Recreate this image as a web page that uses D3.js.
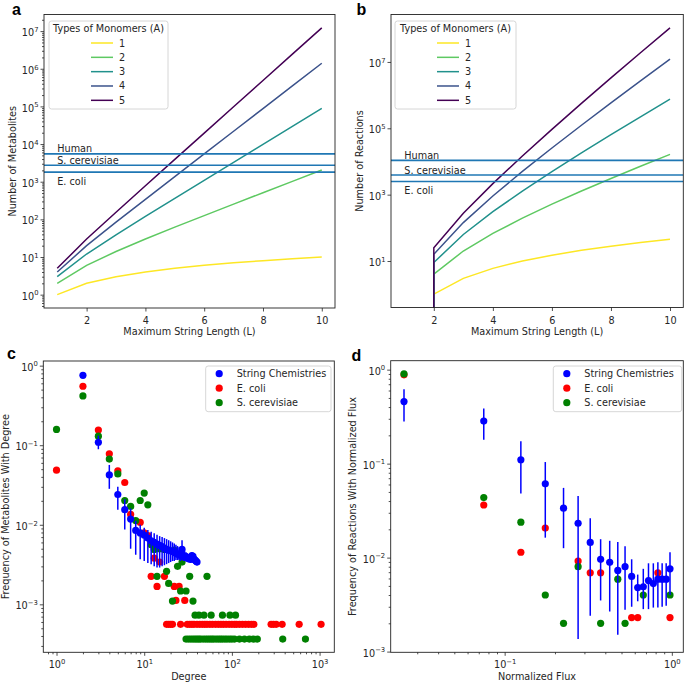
<!DOCTYPE html>
<html>
<head>
<meta charset="utf-8">
<script src="https://cdn.jsdelivr.net/npm/d3@7/dist/d3.min.js"></script>
<style>
html,body{margin:0;padding:0;background:#fff;}
svg{display:block;}
</style>
</head>
<body>
<svg id="chart" width="685" height="684"></svg>
<script>
// ---------------- data ----------------
const stringLengths = [1,2,3,4,5,6,7,8,9,10];
const monomerTypes = ["1","2","3","4","5"];

const metabolitesA1 = [1,2,3,4,5,6,7,8,9,10];
const metabolitesA2 = [2,6,14,30,62,126,254,510,1022,2046];
const metabolitesA3 = [3,12,39,120,363,1092,3279,9840,29523,88572];
const metabolitesA4 = [4,20,84,340,1364,5460,21844,87380,349524,1398100];
const metabolitesA5 = [5,30,155,780,3905,19530,97655,488280,2441405,12207030];

const reactionsA1 = [0,1,3,6,10,15,21,28,36,45];
const reactionsA2 = [0,4,20,68,196,516,1284,3076,7172,16388];
const reactionsA3 = [0,9,63,306,1278,4923,18045,63972,221436,752877];
const reactionsA4 = [0,16,144,912,5008,25488,123792,582544,2679696,12116880];
const reactionsA5 = [0,25,275,2150,14650,92775,561525,3295900,18920900,106811525];

const organismNames = ["Human","S. cerevisiae","E. coli"];
const organismMetabolites = [5500,2730,1800];
const organismReactions = [10800,3900,2500];

const seriesNames = ["String Chemistries","E. coli","S. cerevisiae"];

// panel c : degree distributions
const degreeString = [2,3,4,5,6,7,8,9,10,11,12,13,14,15,16,17,18,19,20,21,22,23,24,25,26,27,28,29,30,31,32,33,34,35,36,37,38,39,40];
const freqString = [0.757,0.109,0.0423,0.0240,0.0155,0.0118,0.0085,0.0079,0.0074,0.0068,0.0063,0.0060,0.0057,0.0055,0.0053,0.0051,0.0049,0.0048,0.0047,0.0046,0.0045,0.0044,0.0043,0.0042,0.0041,0.0049,0.0040,0.0040,0.0039,0.0038,0.0038,0.0037,0.0037,0.0041,0.0040,0.0037,0.0036,0.0035,0.0034];
const freqStringLo = [0.735,0.089,0.0283,0.0155,0.0087,0.0050,0.0042,0.0037,0.0035,0.0033,0.0032,0.0030,0.0029,0.0029,0.0030,0.0031,0.0032,0.0033,0.0034,0.0035,0.0035,0.0036,0.0036,0.0036,0.0035,0.0040,0.0035,0.0035,0.0035,0.0034,0.0034,0.0034,0.0033,0.0037,0.0036,0.0034,0.0033,0.0032,0.0031];
const freqStringHi = [0.78,0.132,0.0565,0.0300,0.0210,0.0160,0.0112,0.0100,0.0092,0.0086,0.0082,0.0078,0.0075,0.0072,0.0070,0.0068,0.0066,0.0064,0.0062,0.0060,0.0058,0.0056,0.0054,0.0052,0.0050,0.0064,0.0047,0.0046,0.0045,0.0044,0.0043,0.0042,0.0041,0.0045,0.0044,0.0041,0.0040,0.0039,0.0038];

const degreeEcoli = [1,2,3,4,5,6,7,9,10,11,12,13,14,15,16,17,22,23,25,29,
  18,19,20,21,26,31,33,35,37,40,43,46,49,52,56,60,65,70,75,80,86,93,100,107,113,122,132,143,155,167,178,280,298,320,374,585,1040];
const freqEcoli = [0.0485,0.551,0.155,0.078,0.0475,0.034,0.0135,0.0107,0.0079,0.0073,0.00225,0.0038,0.00168,0.0034,0.0051,0.00225,0.00168,0.00112,0.00168,0.00112,
  0.00056,0.00056,0.00056,0.00056,0.00056,0.00056,0.00056,0.00056,0.00056,0.00056,0.00056,0.00056,0.00056,0.00056,0.00056,0.00056,0.00056,0.00056,0.00056,0.00056,0.00056,0.00056,0.00056,0.00056,0.00056,0.00056,0.00056,0.00056,0.00056,0.00056,0.00056,0.00056,0.00056,0.00056,0.00056,0.00056,0.00056];

const degreeYeast = [1,2,3,4,5,6,7,8,9,10,11,12,13,14,15,17,18,19,21,22,24,26,27,30,33,36,52,
  38,42,48,58,78,95,110,
  30,32,34,36,38,40,42,44,47,50,53,56,59,62,66,70,74,78,83,88,94,100,107,122,139,158,175,195,380,690];
const freqYeast = [0.158,0.417,0.130,0.067,0.0436,0.0202,0.017,0.0113,0.0202,0.025,0.0178,0.0056,0.0049,0.00225,0.0050,0.0049,0.0026,0.00183,0.0011,0.0048,0.0030,0.00147,0.0034,0.00147,0.00225,0.0011,0.00225,
  0.00073,0.00073,0.00073,0.00073,0.00073,0.00073,0.00073,
  0.000366,0.000366,0.000366,0.000366,0.000366,0.000366,0.000366,0.000366,0.000366,0.000366,0.000366,0.000366,0.000366,0.000366,0.000366,0.000366,0.000366,0.000366,0.000366,0.000366,0.000366,0.000366,0.000366,0.000366,0.000366,0.000366,0.000366,0.000366,0.000366,0.000366];

// panel d : flux distributions
const fluxBins = [0.025,0.075,0.125,0.175,0.225,0.275,0.325,0.375,0.425,0.475,0.525,0.575,0.625,0.675,0.725,0.775,0.825,0.875,0.925,0.975];
const fluxString = [0.457,0.284,0.110,0.061,0.0336,0.0232,0.0145,0.0096,0.0089,0.0073,0.0080,0.0063,0.0048,0.0049,0.0057,0.0053,0.0059,0.0059,0.0059,0.0076];
const fluxStringLo = [0.28,0.18,0.048,0.0163,0.0126,0.00136,0.0024,0.0035,0.00267,0.00151,0.00278,0.0030,0.00343,0.00283,0.00283,0.00294,0.00294,0.0030,0.00308,0.0040];
const fluxStringHi = [0.62,0.385,0.173,0.104,0.0552,0.0453,0.0263,0.0157,0.0151,0.0147,0.0132,0.0096,0.0066,0.0076,0.0087,0.0087,0.0089,0.0087,0.0087,0.0114];
const fluxEcoliX = [0.025,0.075,0.125,0.175,0.275,0.325,0.375,0.575,0.625,0.825,0.975];
const fluxEcoli = [0.88,0.0363,0.0114,0.0206,0.0092,0.0069,0.0069,0.0023,0.0023,0.0069,0.0023];
const fluxYeastX = [0.025,0.075,0.125,0.175,0.225,0.275,0.375,0.475,0.525,0.675,0.975];
const fluxYeast = [0.90,0.0435,0.0238,0.0040,0.0020,0.0080,0.0020,0.0059,0.0020,0.0040,0.0040];

const xTicksL = [2,4,6,8,10];

// ---------------- styles ----------------
const viridis5 = ["#fde725","#5ec962","#21918c","#3b528b","#440154"];
const refColor = "#1f77b4";
const scatterColors = ["#0000ff","#ff0000","#008000"];
const FONT = "'DejaVu Sans', sans-serif";
const FS = 9.7;
const TXT = "#262626";
const INK = "#222";

const svg = d3.select("#chart");

function linDomain(v){const lo=d3.min(v),hi=d3.max(v),m=(hi-lo)*0.05;return [lo-m,hi+m];}
function logDomain(v){const p=v.filter(d=>d>0);const lo=Math.log10(d3.min(p)),hi=Math.log10(d3.max(p)),m=(hi-lo)*0.05;return [Math.pow(10,lo-m),Math.pow(10,hi+m)];}
function minorTicks(dom){const out=[];const lo=Math.floor(Math.log10(dom[0])),hi=Math.ceil(Math.log10(dom[1]));for(let k=lo;k<=hi;k++)for(let m=2;m<=9;m++){const v=m*Math.pow(10,k);if(v>=dom[0]&&v<=dom[1])out.push(v);}return out;}
function majorTicks(dom){const out=[];const lo=Math.ceil(Math.log10(dom[0])-1e-9),hi=Math.floor(Math.log10(dom[1])+1e-9);for(let k=lo;k<=hi;k++)out.push(Math.pow(10,k));return out;}

function supText(sel){
  sel.each(function(d){
    const e=Math.round(Math.log10(d));
    const t=d3.select(this); t.text(null);
    t.append("tspan").text("10");
    t.append("tspan").attr("dy",-4.3).attr("font-size","6.8px").text(e<0?"\u2212"+(-e):String(e));
  });
}
function styleAxis(a){
  a.attr("font-family",FONT).attr("font-size",FS);
  a.select(".domain").remove();
  a.selectAll(".tick line").attr("stroke",INK).attr("stroke-width",0.8);
  a.selectAll(".tick text").attr("fill",TXT);
}
function xAxis(box,x,ticks,isLog,minor){
  const ax=svg.append("g").attr("transform",`translate(0,${box.b})`)
    .call(d3.axisBottom(x).tickValues(ticks).tickSize(3.5).tickPadding(3.5));
  styleAxis(ax);
  ax.selectAll(".tick text").attr("y",16).attr("dy",0);
  if(isLog) supText(ax.selectAll(".tick text")); else ax.selectAll(".tick text").text(d=>d);
  if(minor){
    const m=svg.append("g").attr("transform",`translate(0,${box.b})`)
      .call(d3.axisBottom(x).tickValues(minor).tickSize(2).tickFormat(""));
    styleAxis(m);
  }
}
function yAxis(box,y,ticks,minor){
  const ax=svg.append("g").attr("transform",`translate(${box.l},0)`)
    .call(d3.axisLeft(y).tickValues(ticks).tickSize(3.5).tickPadding(2));
  styleAxis(ax);
  ax.selectAll(".tick text").attr("dy",4.6);
  supText(ax.selectAll(".tick text"));
  if(minor){
    const m=svg.append("g").attr("transform",`translate(${box.l},0)`)
      .call(d3.axisLeft(y).tickValues(minor).tickSize(2).tickFormat(""));
    styleAxis(m);
  }
}
function frame(box){
  svg.append("rect").attr("x",box.l).attr("y",box.t).attr("width",box.r-box.l).attr("height",box.b-box.t)
    .attr("fill","none").attr("stroke",INK).attr("stroke-width",0.9);
}
function label(x,y,txt,opts={}){
  const t=svg.append("text").attr("x",x).attr("y",y).text(txt)
    .attr("font-family",opts.font||FONT).attr("font-size",opts.size||FS)
    .attr("fill",opts.fill||TXT).attr("text-anchor",opts.anchor||"start");
  if(opts.weight) t.attr("font-weight",opts.weight);
  if(opts.rotate) t.attr("transform",`rotate(-90,${x},${y})`);
  return t;
}
function panelLetter(x,y,ch){label(x,y,ch,{font:"'Liberation Sans', Arial, sans-serif",size:16,weight:"bold",fill:"#000"});}

// ---------- panels a & b ----------
function linePanel(box,seriesList,refs,yLab,yLabX,yTicks,showMinor,leg,clipId){
  const x=d3.scaleLinear().domain(linDomain(stringLengths)).range([box.l,box.r]);
  const yDom=logDomain(seriesList.flat());
  const y=d3.scaleLog().domain(yDom).range([box.b,box.t]);
  svg.append("clipPath").attr("id",clipId).append("rect")
    .attr("x",box.l).attr("y",box.t).attr("width",box.r-box.l).attr("height",box.b-box.t);
  const g=svg.append("g").attr("clip-path",`url(#${clipId})`);
  const line=d3.line().x((d,i)=>x(stringLengths[i])).y(d=>d>0?y(d):box.b+1e5);
  seriesList.forEach((s,i)=>{
    g.append("path").datum(s).attr("d",line).attr("fill","none")
      .attr("stroke",viridis5[i]).attr("stroke-width",1.5);
  });
  refs.forEach((v,i)=>{
    g.append("line").attr("x1",box.l).attr("x2",box.r).attr("y1",y(v)).attr("y2",y(v))
      .attr("stroke",refColor).attr("stroke-width",1.6);
    label(x(1),y(v)+(i<2?-1.5:12.8),organismNames[i]);
  });
  xAxis(box,x,xTicksL,false,null);
  yAxis(box,y,yTicks?yTicks:majorTicks(yDom),showMinor?minorTicks(yDom):null);
  frame(box);
  // legend
  svg.append("rect").attr("x",leg.x).attr("y",leg.y).attr("width",leg.w).attr("height",leg.h)
    .attr("rx",2.5).attr("fill","#fff").attr("fill-opacity",0.8).attr("stroke","#cccccc").attr("stroke-width",0.8);
  label(leg.x+leg.w/2,leg.y+11,"Types of Monomers (A)",{anchor:"middle"});
  monomerTypes.forEach((m,i)=>{
    const yy=leg.y+22+i*14.33;
    svg.append("line").attr("x1",leg.x+42).attr("x2",leg.x+64).attr("y1",yy).attr("y2",yy)
      .attr("stroke",viridis5[i]).attr("stroke-width",1.5);
    label(leg.x+70,yy+3.5,m);
  });
  label((box.l+box.r)/2,335,"Maximum String Length (L)",{anchor:"middle"});
  label(yLabX,(box.t+box.b)/2,yLab,{anchor:"middle",rotate:true});
}

const boxA={l:44,r:335,t:14.5,b:308};
const boxB={l:391,r:683.3,t:14.5,b:307.5};
linePanel(boxA,[metabolitesA1,metabolitesA2,metabolitesA3,metabolitesA4,metabolitesA5],organismMetabolites,
  "Number of Metabolites",16,null,true,{x:49,y:21,w:119,h:88},"clipA");
linePanel(boxB,[reactionsA1,reactionsA2,reactionsA3,reactionsA4,reactionsA5],organismReactions,
  "Number of Reactions",362.7,[10,1000,100000,10000000],false,{x:395,y:21,w:121,h:88},"clipB");

// ---------- panels c & d ----------
function scatterPanel(box,str,others,xMajor,xLab,yLab,yLabX,leg){
  const allX=str.x.concat(...others.map(o=>o.x));
  const allY=str.y.concat(str.lo,str.hi,...others.map(o=>o.y));
  const xDom=logDomain(allX), yDom=logDomain(allY);
  const x=d3.scaleLog().domain(xDom).range([box.l,box.r]);
  const y=d3.scaleLog().domain(yDom).range([box.b,box.t]);
  others.forEach((o,k)=>{
    svg.append("g").selectAll("circle").data(o.x).join("circle")
      .attr("cx",d=>x(d)).attr("cy",(d,i)=>y(o.y[i])).attr("r",3.6).attr("fill",scatterColors[k+1]);
  });
  const eb=svg.append("g");
  eb.selectAll("line").data(str.x).join("line")
    .attr("x1",d=>x(d)).attr("x2",d=>x(d)).attr("y1",(d,i)=>y(str.lo[i])).attr("y2",(d,i)=>y(str.hi[i]))
    .attr("stroke",scatterColors[0]).attr("stroke-width",1.5);
  eb.selectAll("circle").data(str.x).join("circle")
    .attr("cx",d=>x(d)).attr("cy",(d,i)=>y(str.y[i])).attr("r",3.6).attr("fill",scatterColors[0]);
  xAxis(box,x,xMajor,true,minorTicks(xDom));
  yAxis(box,y,majorTicks(yDom),minorTicks(yDom));
  frame(box);
  svg.append("rect").attr("x",leg.x).attr("y",leg.y).attr("width",leg.w).attr("height",45.7)
    .attr("rx",2.5).attr("fill","#fff").attr("fill-opacity",0.8).attr("stroke","#cccccc").attr("stroke-width",0.8);
  seriesNames.forEach((n,i)=>{
    const yy=leg.y+7.7+i*14.5;
    svg.append("circle").attr("cx",leg.x+13.5).attr("cy",yy).attr("r",3.6).attr("fill",scatterColors[i]);
    label(leg.x+31,yy+3.5,n);
  });
  label((box.l+box.r)/2,680.3,xLab,{anchor:"middle"});
  label(yLabX,(box.t+box.b)/2,yLab,{anchor:"middle",rotate:true});
}

const boxC={l:43.3,r:334.3,t:361,b:652.3};
const boxD={l:390.7,r:683.3,t:360.7,b:652.3};
scatterPanel(boxC,{x:degreeString,y:freqString,lo:freqStringLo,hi:freqStringHi},
  [{x:degreeEcoli,y:freqEcoli},{x:degreeYeast,y:freqYeast}],[1,10,100,1000],
  "Degree","Frequency of Metabolites With Degree",9,{x:205.7,y:366,w:125.3});
scatterPanel(boxD,{x:fluxBins,y:fluxString,lo:fluxStringLo,hi:fluxStringHi},
  [{x:fluxEcoliX,y:fluxEcoli},{x:fluxYeastX,y:fluxYeast}],[0.1,1],
  "Normalized Flux","Frequency of Reactions With Normalized Flux",356,{x:553.3,y:366,w:128.4});

panelLetter(12,14.8,"a");
panelLetter(356.5,14.8,"b");
panelLetter(7,358.8,"c");
panelLetter(351.5,360.5,"d");
</script>
</body>
</html>
